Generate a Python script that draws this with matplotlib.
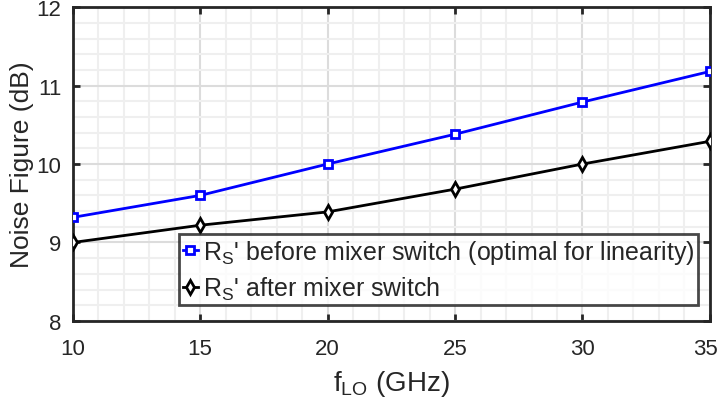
import matplotlib
matplotlib.use("Agg")
import matplotlib.pyplot as plt
from matplotlib.ticker import MultipleLocator
import matplotlib.transforms as mtransforms

plt.rcParams['font.family'] = ['Liberation Sans', 'DejaVu Sans']
plt.rcParams['mathtext.fontset'] = 'custom'
plt.rcParams['mathtext.rm'] = 'Liberation Sans'
plt.rcParams['mathtext.it'] = 'Liberation Sans'

f_lo = [10, 15, 20, 25, 30, 35]
nf_before = [9.32, 9.60, 10.00, 10.38, 10.79, 11.18]
nf_after = [9.00, 9.22, 9.39, 9.68, 10.00, 10.29]
label_before = "R$_{\\mathregular{S}}$' before mixer switch (optimal for linearity)"
label_after = "R$_{\\mathregular{S}}$' after mixer switch"
xticks = [10, 15, 20, 25, 30, 35]
yticks = [8, 9, 10, 11, 12]

dark = '#262626'
fig = plt.figure(figsize=(7.2, 4.06), dpi=100)
ax = fig.add_axes([0.101, 0.207, 0.885, 0.773])

ax.plot(f_lo, nf_before, color='#0000ff', lw=2, marker='s', ms=6,
        mfc='white', mec='#0000ff', mew=2, label=label_before, zorder=3)
ax.plot(f_lo, nf_after, color='black', lw=2, marker='d', ms=7,
        mfc='white', mec='black', mew=2, label=label_after, zorder=3)

ax.set_xlim(10, 35)
ax.set_ylim(8, 12)
ax.set_xticks(xticks)
ax.set_yticks(yticks)
ax.xaxis.set_minor_locator(MultipleLocator(1))
ax.yaxis.set_minor_locator(MultipleLocator(0.2))
ax.grid(which='major', color='#dcdcdc', lw=1.5)
ax.grid(which='minor', color='#efefef', lw=1.5)
ax.set_axisbelow(True)
ax.tick_params(which='major', direction='in', length=5, width=2, color=dark,
               top=True, right=True, labelsize=16, labelcolor=dark)
ax.tick_params(axis='x', which='major', pad=12)
ax.tick_params(axis='y', which='major', pad=8)
ax.tick_params(which='minor', length=0)
for s in ax.spines.values():
    s.set_color(dark)
    s.set_linewidth(2)

ax.set_xlabel("f$_{\\mathregular{LO}}$ (GHz)", fontsize=20, color=dark, labelpad=7)
ax.set_ylabel("Noise Figure (dB)", fontsize=19, color=dark, labelpad=2)

# nudge the last x tick label so it stays inside the canvas
last = ax.get_xticklabels()[-1]
last.set_transform(last.get_transform() +
                   mtransforms.ScaledTranslation(-4 / 100, 0, fig.dpi_scale_trans))

leg = ax.legend(loc='upper left', bbox_to_anchor=(0.167, 0.277), borderaxespad=0,
                fontsize=18, frameon=True, fancybox=False, handlelength=0.6,
                handletextpad=0.2, borderpad=0.15, labelspacing=0.35)
leg.get_frame().set_edgecolor('#1a1a1a')
leg.get_frame().set_linewidth(2)
for t in leg.get_texts():
    t.set_color(dark)

fig.savefig('out.png', dpi=100)
